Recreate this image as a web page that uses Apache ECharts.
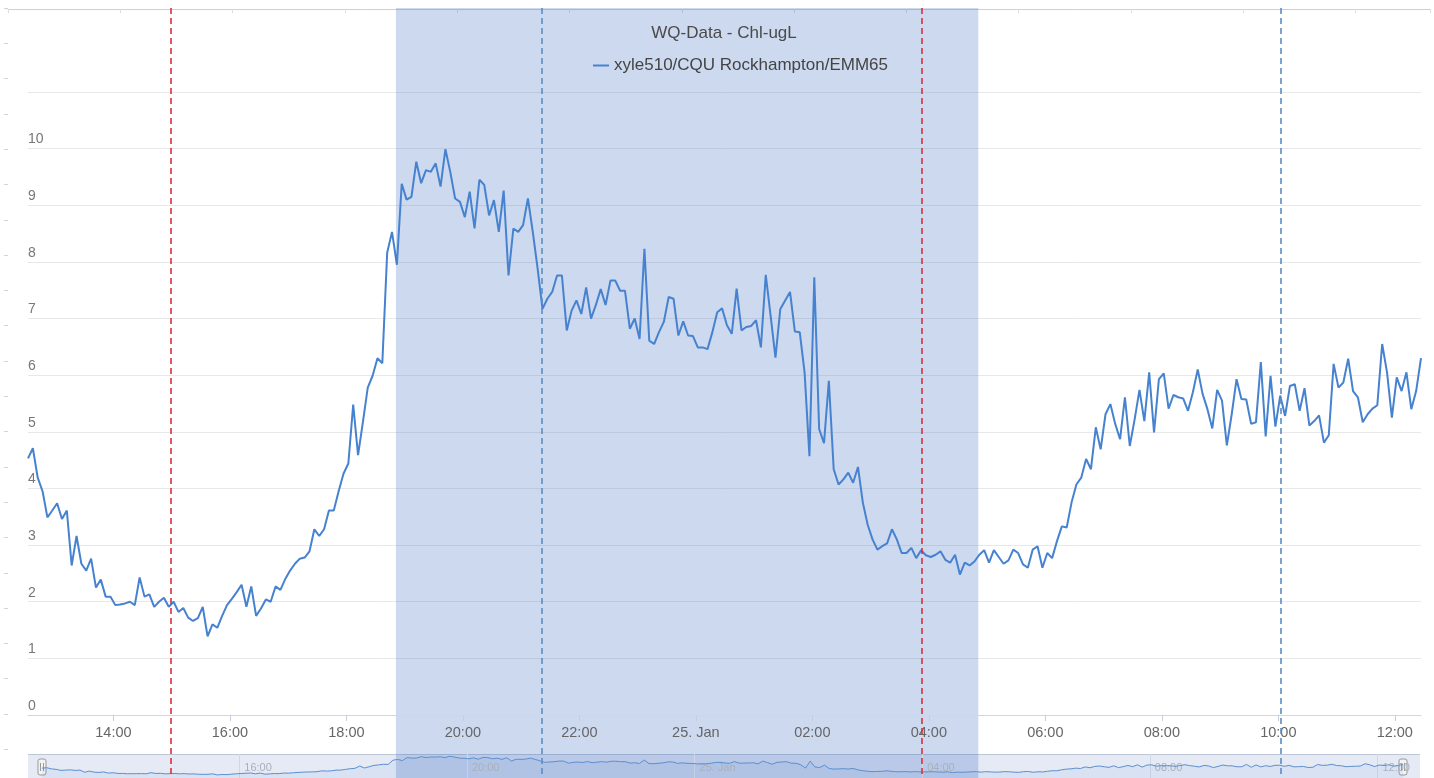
<!DOCTYPE html>
<html>
<head>
<meta charset="utf-8">
<script src="https://cdn.jsdelivr.net/npm/echarts@6/dist/echarts.min.js"></script>
<style>
  html, body { margin: 0; padding: 0; background: #ffffff; }
  #chart { width: 1434px; height: 778px; }
</style>
</head>
<body>
<div id="chart"></div>
<script>
// ---- chart content ----
const chartTitle = 'WQ-Data - Chl-ugL';
const seriesName = 'xyle510/CQU Rockhampton/EMM65';

// Chlorophyll readings (ug/L), one every 5 minutes from the start time
const startTime = '2019-01-24T12:32:00Z';
const stepMinutes = 5;
const chlValues = [
  4.53, 4.71, 4.19, 3.95, 3.49, 3.61, 3.74, 3.46, 3.61, 2.64,
  3.16, 2.67, 2.55, 2.76, 2.25, 2.39, 2.09, 2.09, 1.94, 1.95,
  1.97, 2.00, 1.94, 2.43, 2.09, 2.13, 1.91, 2.00, 2.07, 1.91,
  2.00, 1.82, 1.89, 1.72, 1.66, 1.71, 1.91, 1.39, 1.60, 1.54,
  1.75, 1.94, 2.05, 2.17, 2.30, 1.91, 2.27, 1.75, 1.88, 2.04,
  2.00, 2.27, 2.21, 2.40, 2.55, 2.67, 2.76, 2.78, 2.89, 3.28,
  3.16, 3.28, 3.61, 3.61, 3.95, 4.26, 4.44, 5.48, 4.59, 5.17,
  5.78, 5.99, 6.30, 6.21, 8.16, 8.53, 7.95, 9.38, 9.10, 9.15,
  9.77, 9.39, 9.62, 9.59, 9.74, 9.33, 9.99, 9.59, 9.12, 9.06,
  8.79, 9.24, 8.59, 9.45, 9.36, 8.82, 9.09, 8.53, 9.26, 7.76,
  8.59, 8.53, 8.65, 9.12, 8.53, 7.88, 7.17, 7.35, 7.47, 7.76,
  7.76, 6.79, 7.14, 7.32, 7.08, 7.55, 7.00, 7.24, 7.52, 7.24,
  7.67, 7.67, 7.49, 7.49, 6.82, 7.00, 6.64, 8.23, 6.61, 6.55,
  6.76, 6.94, 7.38, 7.35, 6.70, 6.95, 6.70, 6.69, 6.49, 6.49,
  6.46, 6.76, 7.11, 7.18, 6.88, 6.73, 7.53, 6.79, 6.85, 6.87,
  6.97, 6.49, 7.77, 7.05, 6.31, 7.17, 7.32, 7.47, 6.77, 6.76,
  6.05, 4.57, 7.73, 5.05, 4.80, 5.90, 4.34, 4.07, 4.16, 4.28,
  4.10, 4.38, 3.75, 3.36, 3.10, 2.92, 2.98, 3.03, 3.28, 3.10,
  2.86, 2.86, 2.95, 2.77, 2.91, 2.82, 2.79, 2.83, 2.89, 2.74,
  2.69, 2.83, 2.48, 2.69, 2.64, 2.71, 2.83, 2.91, 2.69, 2.91,
  2.79, 2.67, 2.73, 2.92, 2.86, 2.66, 2.60, 2.92, 2.98, 2.60,
  2.86, 2.77, 3.07, 3.33, 3.31, 3.75, 4.07, 4.19, 4.52, 4.34,
  5.08, 4.69, 5.31, 5.49, 5.14, 4.87, 5.61, 4.75, 5.22, 5.74,
  5.19, 6.05, 4.99, 5.93, 6.03, 5.41, 5.65, 5.61, 5.59, 5.37,
  5.70, 6.10, 5.67, 5.40, 5.06, 5.74, 5.55, 4.76, 5.31, 5.93,
  5.58, 5.57, 5.14, 5.17, 6.23, 4.92, 5.99, 5.09, 5.64, 5.28,
  5.81, 5.84, 5.37, 5.77, 5.11, 5.19, 5.29, 4.81, 4.94, 6.20,
  5.78, 5.87, 6.29, 5.72, 5.61, 5.17, 5.31, 5.41, 5.47, 6.55,
  6.05, 5.25, 5.96, 5.72, 6.05, 5.40, 5.72, 6.30
];

// Tick positions of the main time axis and of the overview strip
const mainTicks = [
  '2019-01-24T14:00Z', '2019-01-24T16:00Z', '2019-01-24T18:00Z', '2019-01-24T20:00Z',
  '2019-01-24T22:00Z', '2019-01-25T00:00Z', '2019-01-25T02:00Z', '2019-01-25T04:00Z',
  '2019-01-25T06:00Z', '2019-01-25T08:00Z', '2019-01-25T10:00Z', '2019-01-25T12:00Z'
];
const overviewTicks = [
  '2019-01-24T16:00Z', '2019-01-24T20:00Z', '2019-01-25T00:00Z',
  '2019-01-25T04:00Z', '2019-01-25T08:00Z', '2019-01-25T12:00Z'
];
const yTicks = [0, 1, 2, 3, 4, 5, 6, 7, 8, 9, 10];

// Event markers and the shaded period
const redLineTimes = ['2019-01-24T14:59Z', '2019-01-25T03:53Z'];
const blueLineTimes = ['2019-01-24T21:21Z', '2019-01-25T10:03Z'];
const shadedPeriod = ['2019-01-24T18:51Z', '2019-01-25T04:51Z'];

// ---- helpers ----
const FONT = '"Liberation Sans", Arial, Helvetica, sans-serif';
const MONTHS = ['Jan', 'Feb', 'Mar', 'Apr', 'May', 'Jun', 'Jul', 'Aug', 'Sep', 'Oct', 'Nov', 'Dec'];
const ms = s => Date.parse(s);
const pad = n => (n < 10 ? '0' : '') + n;
function formatTime(v) {
  const d = new Date(v);
  const h = d.getUTCHours(), m = d.getUTCMinutes();
  if (h === 0 && m === 0) return d.getUTCDate() + '. ' + MONTHS[d.getUTCMonth()];
  return pad(h) + ':' + pad(m);
}

const t0 = ms(startTime);
const points = chlValues.map((v, i) => [t0 + i * stepMinutes * 60000, v]);
const tMin = points[0][0];
const tMax = points[points.length - 1][0];

// markers run over the whole page height, through the axis and the overview strip
const TOP_PX = 8, BOTTOM_PX = 800;
const markerLines = []
  .concat(redLineTimes.map(t => [
    { xAxis: ms(t), y: TOP_PX, lineStyle: { color: '#d9303d' } },
    { xAxis: ms(t), y: BOTTOM_PX }
  ]))
  .concat(blueLineTimes.map(t => [
    { xAxis: ms(t), y: TOP_PX, lineStyle: { color: '#5a8dc6' } },
    { xAxis: ms(t), y: BOTTOM_PX }
  ]));

const chart = echarts.init(document.getElementById('chart'), null, { renderer: 'canvas' });

const option = {
  animation: false,
  backgroundColor: '#ffffff',
  textStyle: { fontFamily: FONT },
  title: {
    text: chartTitle,
    left: 724,
    textAlign: 'center',
    top: 25,
    padding: 0,
    textStyle: { fontSize: 17, fontWeight: 'normal', color: '#4a4a4a', fontFamily: FONT }
  },
  legend: {
    data: [seriesName],
    left: 593,
    top: 57,
    padding: 0,
    icon: 'rect',
    itemWidth: 16,
    itemHeight: 2,
    selectedMode: false,
    textStyle: { fontSize: 17, color: '#444444', fontFamily: FONT }
  },
  grid: [
    { left: 28, right: 13, top: 92, bottom: 63 },     // main plot
    { left: 42, right: 31, top: 754, height: 24 },    // overview strip
    { left: 8, right: 4, top: 8, height: 1 },         // top ruler
    { left: 8, width: 1, top: 8, bottom: 0 }          // left ruler
  ],
  xAxis: [
    {
      gridIndex: 0, type: 'value', min: tMin, max: tMax, z: 3,
      axisLine: { show: true, lineStyle: { color: '#d6d6d6', width: 1 } },
      axisTick: { show: true, length: 6, customValues: mainTicks.map(ms), lineStyle: { color: '#c0d0e0' } },
      axisLabel: {
        customValues: mainTicks.map(ms), formatter: formatTime,
        margin: 10, fontSize: 14.5, color: '#666666', fontFamily: FONT
      },
      splitLine: { show: false }
    },
    {
      gridIndex: 1, type: 'value', min: tMin, max: tMax, position: 'top', z: 3,
      axisLine: { show: false },
      axisTick: { show: false, customValues: overviewTicks.map(ms) },
      axisLabel: {
        inside: true, customValues: overviewTicks.map(ms), formatter: formatTime,
        margin: 8, fontSize: 11, color: '#a9b0bb', align: 'left', padding: [0, 0, 0, 5], fontFamily: FONT
      },
      splitLine: { show: true, lineStyle: { color: '#cfd8e6', width: 1 } }
    },
    {
      gridIndex: 2, type: 'value', min: 0, max: 1422, interval: 112.3, position: 'top',
      axisLine: { show: true, lineStyle: { color: '#cfcfcf', width: 1 } },
      axisTick: { show: true, inside: true, length: 4, lineStyle: { color: '#dddddd' } },
      axisLabel: { show: false },
      splitLine: { show: false }
    },
    { gridIndex: 3, type: 'value', show: false }
  ],
  yAxis: [
    {
      gridIndex: 0, type: 'value', min: 0, max: 11, interval: 1,
      axisLine: { show: false },
      axisTick: { show: false },
      axisLabel: {
        inside: true, margin: 0, verticalAlign: 'bottom', padding: [0, 0, 2, 0],
        fontSize: 14, color: '#777777', fontFamily: FONT,
        formatter: v => (yTicks.indexOf(v) >= 0 ? String(v) : '')
      },
      splitLine: { show: true, lineStyle: { color: '#e8e8e8', width: 1 } }
    },
    { gridIndex: 1, type: 'value', min: 0, max: 11, show: false },
    { gridIndex: 2, type: 'value', show: false },
    {
      gridIndex: 3, type: 'value', min: 0, max: 770, interval: 35.3, inverse: true, position: 'left',
      axisLine: { show: false },
      axisTick: { show: true, length: 4, lineStyle: { color: '#d4d4d4' } },
      axisLabel: { show: false },
      splitLine: { show: false }
    }
  ],
  series: [
    {
      name: seriesName,
      type: 'line',
      xAxisIndex: 0,
      yAxisIndex: 0,
      data: points,
      symbol: 'none',
      smooth: false,
      clip: false,
      lineStyle: { color: '#4682cf', width: 2 },
      itemStyle: { color: '#4682cf' },
      emphasis: { disabled: true },
      markArea: {
        silent: true,
        z: 1,
        itemStyle: { color: 'rgba(68,114,196,0.27)' },
        data: [[
          { xAxis: ms(shadedPeriod[0]), y: TOP_PX },
          { xAxis: ms(shadedPeriod[1]), y: BOTTOM_PX }
        ]]
      },
      markLine: {
        silent: true,
        symbol: ['none', 'none'],
        label: { show: false },
        lineStyle: { type: [6, 4], width: 1.6 },
        data: markerLines
      }
    },
    {
      name: 'overview',
      type: 'line',
      xAxisIndex: 1,
      yAxisIndex: 1,
      data: points,
      symbol: 'none',
      silent: true,
      lineStyle: { color: '#5b8fd0', width: 1 },
      areaStyle: { color: 'rgba(70,130,207,0.10)' },
      emphasis: { disabled: true }
    }
  ],
  graphic: [
    // overview strip background and outline
    { type: 'rect', z: 0, silent: true, shape: { x: 28, y: 754, width: 1392, height: 30 },
      style: { fill: 'rgba(102,133,194,0.17)' } },
    { type: 'line', z: 0, silent: true, shape: { x1: 28, y1: 754.5, x2: 1420, y2: 754.5 },
      style: { stroke: '#bcc6d6', lineWidth: 1 } }
  ]
};

chart.setOption(option);

// Overview handles at both ends of the selected range
const leftPx = chart.convertToPixel({ xAxisIndex: 1 }, tMin);
const rightPx = chart.convertToPixel({ xAxisIndex: 1 }, tMax);
function handle(x) {
  return {
    type: 'group', x: x, y: 759, z: 10, silent: true,
    children: [
      { type: 'rect', shape: { x: -4, y: 0, width: 8, height: 16, r: 2 },
        style: { fill: '#f2f2f2', stroke: '#999999', lineWidth: 1 } },
      { type: 'line', shape: { x1: -1.5, y1: 4, x2: -1.5, y2: 12 }, style: { stroke: '#999999', lineWidth: 1 } },
      { type: 'line', shape: { x1: 1.5, y1: 4, x2: 1.5, y2: 12 }, style: { stroke: '#999999', lineWidth: 1 } }
    ]
  };
}
chart.setOption({ graphic: option.graphic.concat([handle(leftPx), handle(rightPx)]) });
</script>
</body>
</html>
